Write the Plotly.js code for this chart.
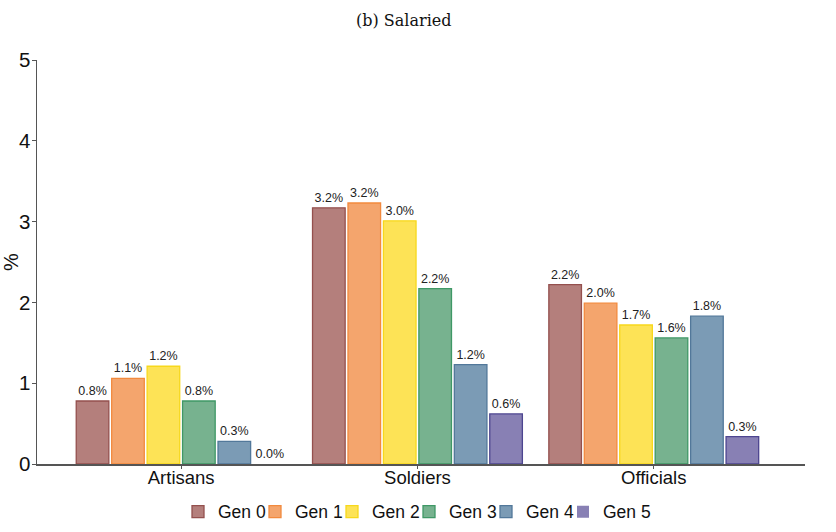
<!DOCTYPE html>
<html>
<head>
<meta charset="utf-8">
<script src="https://cdn.plot.ly/plotly-3.0.1.min.js"></script>
<style>
  body { margin: 0; background: #fff; }
  #chart { width: 836px; height: 532px; }
</style>
</head>
<body>
<div id="chart"></div>
<script>
var categories = ['Artisans', 'Soldiers', 'Officials'];
var generations = ['Gen 0', 'Gen 1', 'Gen 2', 'Gen 3', 'Gen 4', 'Gen 5'];

var gen0 = [0.78, 3.17, 2.22];
var gen1 = [1.06, 3.23, 1.99];
var gen2 = [1.21, 3.01, 1.72];
var gen3 = [0.78, 2.17, 1.56];
var gen4 = [0.28, 1.23, 1.83];
var gen5 = [0, 0.62, 0.34];

var fillColors = ['#b47f7c', '#f4a56d', '#fde356', '#77b28f', '#7b9bb5', '#8880b4'];
var lineColors = ['#94504e', '#f28a3e', '#f7d81c', '#3f9866', '#52789a', '#4d4590'];

// left edge (px) of each legend entry, one legend per trace
var legendLeft = [178, 255, 332, 409, 486, 563];

var series = [gen0, gen1, gen2, gen3, gen4, gen5];
var traces = [];
var layout = {
    width: 836,
    height: 532,
    paper_bgcolor: '#fff',
    plot_bgcolor: '#fff',
    barmode: 'group',
    bargap: 0.1,
    bargroupgap: 0.08,
    margin: {l: 37, r: 31, t: 60, b: 68},
    title: {
        text: '(b) Salaried',
        font: {family: 'DejaVu Serif, Liberation Serif, serif', size: 16, color: '#111'},
        x: 0.483, xanchor: 'center',
        y: 0.962, yanchor: 'middle'
    },
    font: {family: 'Liberation Sans, Arial, sans-serif', color: '#111'},
    xaxis: {
        range: [-0.61, 2.64],
        showline: true, linecolor: '#555', linewidth: 1.5,
        ticks: 'outside', ticklen: 3, tickcolor: '#555',
        tickfont: {size: 18.5, color: '#111'},
        ticklabelstandoff: -7,
        showgrid: false, zeroline: false, fixedrange: true
    },
    yaxis: {
        range: [0, 5],
        dtick: 1,
        showline: true, linecolor: '#555', linewidth: 1.5,
        ticks: 'outside', ticklen: 4, tickcolor: '#555',
        tickfont: {size: 20.5, color: '#111'},
        ticklabelstandoff: -3,
        title: {text: '%', font: {size: 20, color: '#111'}, standoff: 6},
        showgrid: false, zeroline: false, fixedrange: true
    },
    showlegend: true
};

for (var iii = 0; iii < series.length; iii++)
{
    var legName = iii == 0 ? 'legend' : 'legend' + (iii + 1);
    // no outline on empty bars, so a 0 value leaves only its label
    var widths = series[iii].map(function(v){ return v > 0 ? 1.3 : 0; });
    traces.push({
        type: 'bar',
        name: generations[iii],
        legend: legName,
        x: categories,
        y: series[iii],
        texttemplate: '%{y:.1f}%',
        textposition: 'outside',
        cliponaxis: false,
        textfont: {family: 'Liberation Sans, Arial, sans-serif', size: 12.5, color: '#222'},
        marker: {color: fillColors[iii], line: {color: lineColors[iii], width: widths}},
        hoverinfo: 'skip'
    });
    layout[legName] = {
        orientation: 'h',
        xref: 'container', yref: 'container',
        x: legendLeft[iii] / 836, xanchor: 'left',
        y: 0.038, yanchor: 'middle',
        font: {size: 17.5, color: '#111'},
        itemwidth: 30,
        bgcolor: 'rgba(0,0,0,0)'
    };
}

Plotly.newPlot('chart', traces, layout, {displayModeBar: false, staticPlot: true});
</script>
</body>
</html>
